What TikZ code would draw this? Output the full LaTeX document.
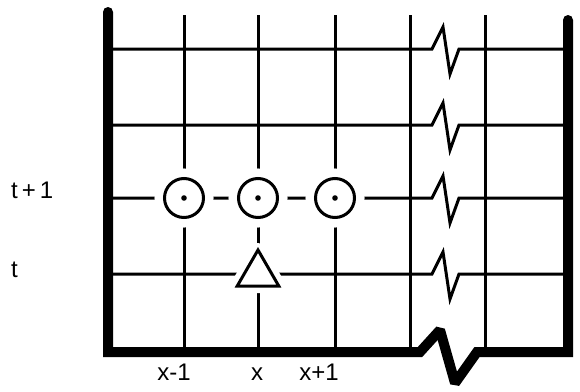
\documentclass[tikz,border=0pt]{standalone}
\usepackage{fontspec}
\setmainfont{Liberation Sans}
\usetikzlibrary{shapes.geometric}

\begin{document}
\begin{tikzpicture}[x=1pt, y=-1pt,
  grid/.style={line width=3pt},
  wall/.style={line width=10pt, line cap=round, line join=miter, miter limit=2},
  site/.style={draw, circle, line width=3pt, minimum size=39pt, inner sep=0pt, fill=white, preaction={draw=white, line width=20pt}},
  source/.style={draw, regular polygon, regular polygon sides=3, minimum size=48pt, inner sep=0pt, line width=3pt, fill=white, preaction={draw=white, line width=14pt, line join=round}},
  lbl/.style={font=\fontsize{24}{28}\selectfont, inner sep=0pt}
]
  \useasboundingbox (0,0) rectangle (580,391);

  % Vertical grid lines
  \foreach \x in {184,258,335,410,485}
    \draw[grid] (\x,15) -- (\x,352);

  % Horizontal grid lines with break
  \foreach \y in {49,125,198,274}
    \draw[grid] (108,\y) -- (432,\y) -- (443,{\y-22}) -- (450,{\y+25}) -- (459,\y) -- (568,\y);

  % Sites at t+1
  \node[site] (xm) at (184,198) {};
  \node[site] (xc) at (258,198) {};
  \node[site] (xp) at (335,198) {};
  \foreach \n in {xm,xc,xp}
    \fill (\n) circle (2.8pt);

  % Source at t
  \node[source] (src) at (258,274) {};

  % Walls
  \draw[wall] (108,12) -- (108,352) -- (420,352) -- (440,330) -- (455,383) -- (477,352) -- (568,352) -- (568,20);

  % Labels
  \node[lbl, anchor=base west] (ltp) at (11,198) {t\,+\,1};
  \node[lbl, anchor=base west] (lt) at (11,277) {t};
  \node[lbl, anchor=base] (lxm) at (174,380) {x-1};
  \node[lbl, anchor=base] (lx) at (257,380) {x};
  \node[lbl, anchor=base] (lxp) at (319,380) {x+1};
\end{tikzpicture}
\end{document}
